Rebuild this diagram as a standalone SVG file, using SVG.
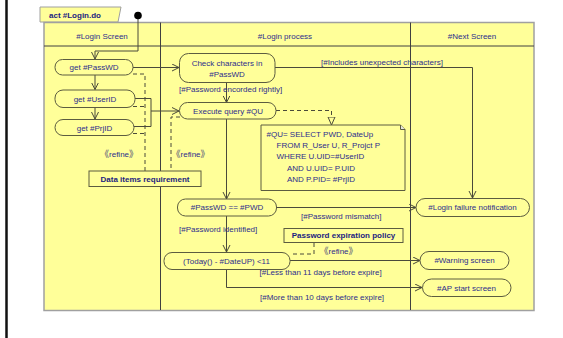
<svg xmlns="http://www.w3.org/2000/svg" width="563" height="338" viewBox="0 0 563 338">
<defs>
<style>
text{font-family:"Liberation Sans",Arial,sans-serif;font-size:8px;fill:#2e2e8c}
.b{font-weight:bold;fill:#1c1c80}
.c{text-anchor:middle}
.node{fill:#ffff99;stroke:#5c5c40;stroke-width:1}
.ln{fill:none;stroke:#4a4a3a;stroke-width:1}
.dash{fill:none;stroke:#4a4a3a;stroke-width:1;stroke-dasharray:4,3}
.gm{fill:#7f7f7f;font-family:"Noto Sans CJK JP",sans-serif;font-size:9px;font-weight:bold}
</style>
<marker id="arr" markerUnits="userSpaceOnUse" markerWidth="10" markerHeight="10" refX="7" refY="4" orient="auto">
<path d="M0,0.5 L7,4 L0,7.5" fill="none" stroke="#4a4a3a" stroke-width="1"/>
</marker>
<marker id="tri" markerUnits="userSpaceOnUse" markerWidth="12" markerHeight="12" refX="8" refY="4" orient="auto">
<path d="M0,0.5 L8,4 L0,7.5 Z" fill="#ffff99" stroke="#4a4a3a" stroke-width="1"/>
</marker>
</defs>
<rect width="563" height="338" fill="#ffffff"/>
<line x1="6.5" y1="0" x2="6.5" y2="338" stroke="#111" stroke-width="2.5"/>

<g id="frame">
<path d="M40,7 H121 L118,22 H40 Z" fill="#ffff99" stroke="#a0a0a0" stroke-width="1"/>
<text class="b" x="49" y="18">act #Login.do</text>
<rect x="44" y="22.5" width="490" height="288" fill="#ffff99" stroke="#a0a0a0" stroke-width="1.5"/>
<line x1="44" y1="46" x2="534" y2="46" stroke="#404040"/>
<line x1="160.5" y1="22.5" x2="160.5" y2="310" stroke="#404040"/>
<line x1="410.5" y1="22.5" x2="410.5" y2="310" stroke="#404040"/>
<text class="c" x="102" y="39">#Login Screen</text>
<text class="c" x="285" y="39">#Login process</text>
<text class="c" x="472" y="39">#Next Screen</text>
</g>

<g id="connectors">
<path class="ln" d="M138,15 V51 H95 V59" marker-end="url(#arr)"/>
<path class="ln" d="M95,75 V89.5" marker-end="url(#arr)"/>
<path class="ln" d="M95,107.5 V119" marker-end="url(#arr)"/>
<path class="ln" d="M133,67.5 H179" marker-end="url(#arr)"/>
<path class="ln" d="M135,98.5 H151 V126.5 H134"/>
<path class="ln" d="M151,111 H179" marker-end="url(#arr)"/>
<path class="dash" d="M133,74 H145 V171"/>
<path class="dash" d="M133,106.5 H145"/>
<path class="dash" d="M133,133.5 H145"/>
<path class="dash" d="M180,117 H171 V171"/>
<path class="ln" d="M275,67.5 H472.5 V198" marker-end="url(#arr)"/>
<path class="ln" d="M226.5,82.5 V102.5" marker-end="url(#arr)"/>
<path class="dash" d="M276,110.5 H331.5 V125" marker-end="url(#tri)"/>
<path class="ln" d="M226.5,119 V199" marker-end="url(#arr)"/>
<path class="ln" d="M276.5,207.5 H416" marker-end="url(#arr)"/>
<path class="ln" d="M226.5,216 V252" marker-end="url(#arr)"/>
<path class="dash" d="M314,243 V254 H290"/>
<path class="ln" d="M290,260.5 H420" marker-end="url(#arr)"/>
<path class="ln" d="M226.5,269.5 V287.5 H422" marker-end="url(#arr)"/>
<text x="321" y="64.5">[#Includes unexpected characters]</text>
<text x="179" y="92">[#Password encorded rightly]</text>
<text x="301" y="218.5">[#Password mismatch]</text>
<text x="179" y="232">[#Password identified]</text>
<text x="259.5" y="275">[#Less than 11 days before expire]</text>
<text x="260" y="300">[#More than 10 days before expire]</text>
<text x="100" y="157"><tspan class="gm">《</tspan>refine<tspan class="gm">》</tspan></text>
<text x="171.5" y="157"><tspan class="gm">《</tspan>refine<tspan class="gm">》</tspan></text>
<text x="319.5" y="253.5"><tspan class="gm">《</tspan>refine<tspan class="gm">》</tspan></text>
</g>

<g id="start"><circle cx="138" cy="15.5" r="3.8" fill="#000"/></g>

<g id="getPassWD"><rect class="node" x="55" y="59.5" width="78" height="15.5" rx="7.5"/><text class="c" x="94" y="70.3">get #PassWD</text></g>
<g id="getUserID"><rect class="node" x="55" y="90" width="80" height="17.5" rx="8"/><text class="c" x="95" y="102">get #UserID</text></g>
<g id="getPrjID"><rect class="node" x="55" y="119.5" width="79" height="16" rx="8"/><text class="c" x="94.5" y="130.5">get #PrjID</text></g>

<g id="dataItems"><rect x="89" y="171" width="112" height="15.5" fill="#ffff99" stroke="#5c5c40"/><text class="b c" x="145" y="181.7">Data items requirement</text></g>

<g id="checkChars"><rect class="node" x="179.5" y="53.5" width="95.5" height="29" rx="9"/><text class="c" x="227" y="65.5">Check characters in</text><text class="c" x="227" y="77">#PassWD</text></g>

<g id="execQuery"><rect class="node" x="179.5" y="102.5" width="96.5" height="16.5" rx="8"/><text class="c" x="228" y="114">Execute query #QU</text></g>

<g id="note">
<path d="M261,125 H400.5 L405,129.5 V190.5 H261 Z" fill="#ffff99" stroke="#5c5c40"/>
<path d="M400.5,125 V129.5 H405" fill="#e8e8e0" stroke="#5c5c40"/>
<text x="266.5" y="137">#QU= SELECT PWD, DateUp</text>
<text x="276.5" y="148">FROM R_User U, R_Projct P</text>
<text x="276.5" y="159">WHERE U.UID=#UserID</text>
<text x="287" y="170.5">AND U.UID= P.UID</text>
<text x="287" y="182">AND P.PID= #PrjID</text>
</g>

<g id="pwdCompare"><rect class="node" x="177.5" y="199" width="99" height="17" rx="8"/><text class="c" x="227" y="210.2">#PassWD == #PWD</text></g>

<g id="policy"><rect x="284" y="228.5" width="119" height="14" fill="#ffff99" stroke="#5c5c40"/><text class="b c" x="343.5" y="238.3">Password expiration policy</text></g>

<g id="dateCheck"><rect class="node" x="164" y="252.5" width="126" height="17" rx="8"/><text class="c" x="226.5" y="263.7">(Today() - #DateUP) &lt;11</text></g>

<g id="loginFailure"><rect class="node" x="416" y="198.5" width="113.5" height="18" rx="9"/><text class="c" x="472.5" y="210">#Login failure notification</text></g>
<g id="warning"><rect class="node" x="420" y="251.5" width="89" height="18" rx="9"/><text class="c" x="464.5" y="263">#Warning screen</text></g>
<g id="apStart"><rect class="node" x="422.5" y="279" width="88.5" height="17.5" rx="9"/><text class="c" x="466.5" y="290.5">#AP start screen</text></g>
</svg>
